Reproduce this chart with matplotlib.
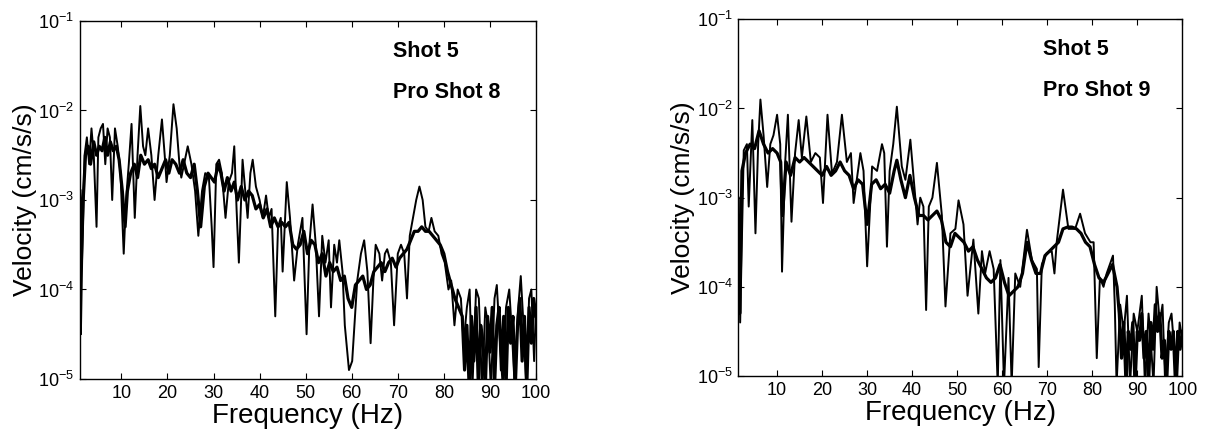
import matplotlib
matplotlib.use("Agg")
import matplotlib.pyplot as plt
from matplotlib.ticker import LogLocator, NullLocator, LogFormatterSciNotation

plt.rcParams['font.family'] = ['Liberation Sans', 'DejaVu Sans']

# ---- left panel: Shot 5 vs Pro Shot 8 (log10 of velocity, cm/s/s) ----
shot5_l_f = [1.0, 1.3, 1.7, 2.2, 2.8, 3.3, 4.0, 4.6, 5.2, 5.8, 6.4, 7.0, 7.6, 8.2, 8.9, 9.5,
             10.2, 10.8, 11.3, 12.0, 12.8, 13.5, 14.2, 15.0, 15.8, 16.5, 17.2, 18.0, 18.8, 19.6,
             20.3, 21.0, 21.8, 22.6, 23.4, 24.2, 25.0, 25.8, 26.5, 27.2, 28.0, 28.8, 29.5, 30.2,
             31.0, 31.6, 32.3, 33.0, 33.8, 34.5, 35.2, 36.0, 36.8, 37.6, 38.4, 39.2, 40.0, 40.8,
             41.6, 42.4, 43.2, 44.0, 44.8, 45.6, 46.4, 47.2, 48.0, 48.8, 49.6, 50.4, 51.2, 52.0,
             52.8, 53.6, 54.4, 55.2, 56.0, 56.8, 57.6, 58.4, 59.2, 60.0, 60.8, 61.6, 62.4, 63.2,
             64.0, 64.8, 65.6, 66.4, 67.2, 68.0, 68.8, 69.6, 70.4, 71.2, 72.0, 72.8, 73.6, 74.4,
             75.2, 76.0, 76.8, 77.6, 78.4, 79.2, 80.0, 80.8, 81.6, 82.4, 83.2, 84.0, 84.5, 85.0,
             85.5, 86.0, 86.5, 87.0, 87.5, 88.0, 88.5, 89.0, 89.5, 90.0, 90.5, 91.0, 91.5, 92.0,
             92.5, 93.0, 93.5, 94.0, 94.5, 95.0, 95.5, 96.0, 96.5, 97.0, 97.5, 98.0, 98.5, 99.0,
             99.5, 100.0]
shot5_l_v = [-2.9, -3.7, -3.0, -2.5, -2.4, -2.6, -2.35, -2.5, -2.4, -2.45, -2.3, -2.5, -2.35, -2.45, -2.4, -2.55,
             -2.9, -3.3, -2.9, -2.7, -2.6, -2.75, -2.5, -2.6, -2.55, -2.65, -2.6, -2.75, -2.65, -2.55,
             -2.7, -2.55, -2.6, -2.7, -2.55, -2.7, -2.75, -2.6, -2.9, -3.3, -2.85, -2.7, -2.75, -2.8,
             -2.6, -2.7, -2.9, -2.75, -2.9, -2.8, -3.0, -2.85, -3.0, -2.9, -2.95, -3.1, -3.05, -3.2,
             -3.1, -3.3, -3.2, -3.3, -3.25, -3.3, -3.25, -3.5, -3.55, -3.5, -3.35, -3.6, -3.45, -3.5,
             -3.7, -3.6, -3.85, -3.7, -3.8, -3.75, -3.9, -3.85, -4.1, -4.2, -3.95, -3.9, -3.85, -4.0,
             -3.95, -3.8, -3.75, -3.7, -3.8, -3.7, -3.65, -3.75, -3.65, -3.6, -3.55, -3.45, -3.35, -3.35,
             -3.3, -3.35, -3.35, -3.4, -3.45, -3.5, -3.6, -3.8, -3.95, -4.1, -4.2, -4.3, -4.9, -4.4,
             -5.1, -4.3, -4.8, -4.2, -5.1, -4.4, -4.6, -5.1, -4.3, -4.7, -4.2, -5.1, -4.4, -4.2,
             -4.9, -4.3, -5.1, -4.2, -4.6, -4.3, -5.1, -4.4, -4.1, -4.8, -4.3, -5.1, -4.2, -4.6,
             -4.1, -4.3]

pro8_f = [1.0, 1.2, 1.5, 2.0, 2.5, 3.0, 3.5, 4.0, 4.6, 5.0, 5.5, 6.0, 6.5, 7.0, 7.5, 8.0, 8.6, 9.2, 9.8,
          10.5, 11.0, 11.6, 12.2, 12.9, 13.5, 14.1, 14.7, 15.2, 15.8, 16.5, 17.2, 18.0, 18.8, 19.4, 19.8,
          20.5, 21.3, 22.0, 22.6, 23.0, 23.6, 24.4, 25.2, 26.0, 26.7, 27.5, 28.2, 29.0, 29.6, 30.0,
          30.6, 31.2, 31.8, 32.6, 33.3, 34.0, 34.5, 35.0, 35.5, 36.3, 36.9, 37.4, 38.0, 38.5, 39.2,
          40.0, 40.7, 41.4, 42.0, 42.6, 43.4, 44.0, 44.6, 45.0, 45.9, 46.6, 47.5, 48.3, 49.3, 50.2,
          50.8, 51.5, 52.2, 52.9, 53.6, 54.3, 55.0, 55.5, 56.2, 56.8, 57.3, 58.0, 58.5, 59.4, 60.1,
          60.7, 61.2, 62.0, 62.7, 63.4, 64.1, 64.7, 65.2, 66.0, 66.6, 67.2, 67.7, 68.5, 69.2, 70.0,
          70.7, 71.4, 72.0, 72.6, 73.3, 74.0, 74.7, 75.4, 76.0, 76.7, 77.3, 78.0, 78.8, 79.5, 80.2,
          81.0, 81.6, 82.3, 83.0, 83.7, 84.3, 85.0, 85.6, 86.2, 87.0, 87.6, 88.3, 89.0, 89.6, 90.2,
          91.0, 91.5, 92.2, 92.8, 93.5, 94.2, 94.8, 95.4, 96.0, 96.7, 97.3, 97.9, 98.5, 99.0, 99.6, 100.0]
pro8_v = [-3.0, -4.5, -3.6, -2.5, -2.3, -2.6, -2.2, -2.5, -3.3, -2.3, -2.2, -2.15, -2.6, -2.2, -2.3, -3.0, -2.2, -2.4, -2.7,
          -3.6, -3.0, -2.6, -2.15, -3.2, -2.5, -1.95, -2.4, -2.5, -2.2, -2.5, -3.0, -2.5, -2.1, -2.5, -2.8,
          -2.5, -1.93, -2.2, -2.6, -2.75, -2.6, -2.4, -2.6, -2.9, -3.4, -2.9, -2.7, -2.75, -3.3, -3.75,
          -2.6, -2.55, -2.7, -3.2, -2.8, -2.7, -2.4, -3.1, -3.7, -2.55, -2.9, -3.2, -2.7, -2.55, -2.85,
          -3.0, -3.2, -2.95, -3.2, -3.1, -4.3, -3.3, -3.2, -3.8, -2.8, -3.2, -3.9, -3.5, -3.2, -4.5,
          -3.5, -3.05, -3.5, -4.3, -3.4, -3.7, -3.45, -4.2, -3.5, -3.7, -3.45, -3.8, -4.4, -4.9, -4.8,
          -4.3, -3.9, -3.6, -3.45, -3.8, -4.6, -3.9, -3.5, -3.6, -3.9, -3.6, -3.55, -3.7, -4.4, -3.6,
          -3.5, -3.6, -4.1, -3.4, -3.2, -3.0, -2.85, -3.0, -3.3, -3.35, -3.2, -3.35, -3.4, -3.6, -3.7,
          -4.0, -3.9, -4.4, -4.0, -4.1, -4.6, -4.2, -4.0, -5.1, -4.0, -4.1, -5.1, -4.2, -4.4, -5.1,
          -4.1, -3.95, -4.6, -5.1, -4.2, -4.0, -4.5, -5.1, -4.3, -3.85, -4.4, -5.1, -4.1, -4.0, -4.8, -4.2]

# ---- right panel: Shot 5 vs Pro Shot 9 ----
shot5_r_f = [1.5, 1.7, 2.2, 3.0, 4.0, 5.0, 6.0, 7.0, 8.0, 9.0, 10.0, 10.8, 11.2, 12.0, 13.0, 14.0, 15.0,
             16.0, 17.0, 18.0, 19.0, 20.0, 21.0, 22.0, 23.0, 24.0, 25.0, 26.0, 27.0, 28.0, 29.0, 30.0,
             31.0, 32.0, 33.0, 34.0, 35.0, 36.0, 36.6, 37.5, 38.5, 39.5, 40.5, 41.5, 42.5, 43.5, 44.5,
             45.5, 46.5, 47.5, 48.5, 49.5, 50.5, 51.5, 52.5, 53.5, 54.5, 55.5, 56.5, 57.5, 58.5, 59.5,
             60.5, 61.5, 62.5, 63.5, 64.5, 65.5, 66.5, 67.5, 68.5, 69.5, 70.5, 71.5, 72.5, 73.5, 74.5,
             75.5, 76.5, 77.5, 78.5, 79.5, 80.5, 81.5, 82.5, 83.5, 84.5, 85.5, 86.0, 86.5, 87.0, 87.5,
             88.0, 88.5, 89.0, 89.5, 90.0, 90.5, 91.0, 91.5, 92.0, 92.5, 93.0, 93.5, 94.0, 94.5, 95.0,
             95.5, 96.0, 96.5, 97.0, 97.5, 98.0, 98.5, 99.0, 99.5, 100.0]
shot5_r_v = [-3.2, -4.3, -2.7, -2.5, -2.4, -2.45, -2.25, -2.4, -2.5, -2.45, -2.5, -2.6, -3.2, -2.6, -2.75, -2.55, -2.6,
             -2.55, -2.6, -2.65, -2.7, -2.75, -2.65, -2.75, -2.7, -2.6, -2.7, -2.75, -2.9, -2.8, -2.85, -3.3,
             -2.85, -2.8, -2.9, -2.85, -2.95, -2.7, -2.58, -2.8, -3.0, -2.75, -3.0, -3.2, -3.2, -3.25, -3.2,
             -3.15, -3.25, -3.5, -3.55, -3.4, -3.45, -3.5, -3.6, -3.55, -3.7, -3.8, -3.9, -3.95, -3.9, -3.75,
             -3.95, -4.1, -4.05, -4.0, -3.85, -3.5, -3.7, -3.85, -3.85, -3.65, -3.6, -3.55, -3.5, -3.35, -3.33,
             -3.33, -3.35, -3.4, -3.5, -3.55, -3.75, -3.9, -3.95, -3.85, -3.75, -4.0, -4.3, -4.8, -4.4, -5.1,
             -4.5, -4.7, -4.4, -5.1, -4.5, -4.6, -4.3, -4.8, -4.5, -5.1, -4.4, -4.7, -4.2, -4.5, -4.3,
             -4.8, -4.6, -5.1, -4.5, -4.7, -4.5, -5.1, -4.5, -4.7, -4.5]

pro9_f = [1.5, 1.8, 2.6, 3.3, 3.7, 4.5, 5.2, 5.8, 6.3, 7.0, 7.8, 8.5, 9.2, 10.0, 10.7, 11.1, 11.8, 12.4,
          13.2, 14.0, 14.8, 15.5, 16.5, 17.5, 18.5, 19.5, 20.2, 21.2, 22.2, 23.3, 24.4, 25.5, 26.4, 27.0,
          28.5, 29.2, 30.0, 31.1, 32.2, 33.3, 33.8, 34.4, 35.0, 35.8, 36.6, 37.7, 38.5, 39.6, 40.7, 41.2,
          41.8, 42.5, 43.1, 43.7, 44.5, 45.5, 46.6, 47.4, 48.5, 49.6, 50.3, 51.4, 52.3, 53.6, 54.7, 55.5,
          56.2, 57.2, 58.1, 59.0, 59.6, 60.4, 61.4, 62.1, 62.9, 64.0, 65.5, 66.6, 67.7, 68.1, 68.8, 69.9,
          71.0, 71.6, 72.1, 73.5, 74.7, 76.2, 77.3, 78.4, 79.6, 80.3, 81.0, 81.7, 82.5, 83.2, 84.6, 85.0,
          85.4, 86.2, 87.0, 87.7, 88.4, 89.2, 90.0, 91.0, 91.7, 92.5, 93.0, 93.6, 94.3, 95.0, 95.6, 96.2,
          97.0, 97.6, 98.2, 98.8, 99.4, 100.0]
pro9_v = [-3.0, -4.4, -2.47, -2.4, -3.1, -2.13, -3.4, -2.4, -1.9, -2.3, -2.88, -2.4, -2.3, -2.07, -2.4, -3.83, -2.6, -2.07,
          -3.27, -2.5, -2.13, -2.55, -2.09, -2.6, -2.5, -2.55, -3.06, -2.07, -2.73, -2.6, -2.07, -2.6, -2.5, -3.06,
          -2.5, -2.7, -3.77, -2.65, -2.7, -2.4, -2.5, -3.55, -2.7, -2.4, -1.98, -2.65, -2.8, -2.35, -3.0, -3.3,
          -3.0, -3.1, -4.26, -3.1, -3.0, -2.61, -3.2, -4.22, -3.4, -3.35, -3.03, -3.3, -4.1, -3.47, -4.3, -3.6,
          -3.85, -3.6, -3.8, -5.1, -3.7, -5.1, -3.9, -5.1, -3.85, -4.0, -3.36, -3.7, -3.8, -4.9, -3.75, -3.62,
          -3.6, -3.85, -3.5, -2.91, -3.35, -3.35, -3.18, -3.4, -3.5, -3.5, -4.8, -3.9, -4.0, -3.85, -3.65, -4.2,
          -5.1, -4.2, -4.5, -4.1, -5.1, -4.3, -4.5, -4.1, -5.1, -4.3, -4.6, -5.1, -4.0, -4.4, -4.2, -5.1,
          -4.4, -4.3, -4.7, -5.1, -4.4, -4.6]

panels = [
    (shot5_l_f, shot5_l_v, pro8_f, pro8_v, "Pro Shot 8", [0.0657, 0.1406, 0.3747, 0.8118], 1.0),
    (shot5_r_f, shot5_r_v, pro9_f, pro9_v, "Pro Shot 9", [0.6067, 0.1474, 0.3648, 0.8088], 1.4),
]

fig = plt.figure(figsize=(12.17, 4.41), dpi=100)

for sf, sv, pf, pv, name, rect, x0 in panels:
    ax = fig.add_axes(rect)
    ax.plot(sf, [10 ** v for v in sv], color="black", linewidth=2.3)
    ax.plot(pf, [10 ** v for v in pv], color="black", linewidth=1.4)
    ax.set_yscale("log")
    ax.set_xlim(x0, 100)
    ax.set_ylim(1e-5, 1e-1)
    ax.set_xticks([10, 20, 30, 40, 50, 60, 70, 80, 90, 100])
    ax.yaxis.set_major_locator(LogLocator(base=10, numticks=10))
    ax.yaxis.set_major_formatter(LogFormatterSciNotation())
    ax.yaxis.set_minor_locator(NullLocator())
    ax.tick_params(direction="in", top=True, right=True, length=4, width=0.8, labelsize=13, pad=4)
    for s in ax.spines.values():
        s.set_linewidth(1.0)
    ax.set_xlabel("Frequency (Hz)", fontsize=20, labelpad=1)
    ax.set_ylabel("Velocity (cm/s/s)", fontsize=19, labelpad=1)
    ax.text(0.686, 0.915, "Shot 5", transform=ax.transAxes, fontsize=15.5,
            fontweight="bold", va="center", ha="left")
    ax.text(0.686, 0.80, name, transform=ax.transAxes, fontsize=15.5,
            fontweight="bold", va="center", ha="left")

plt.savefig("out.png", dpi=100)
